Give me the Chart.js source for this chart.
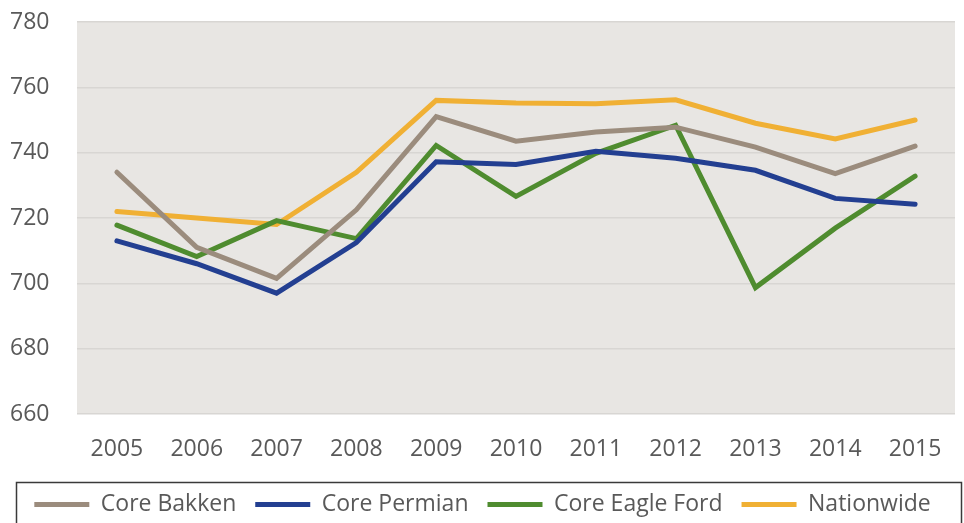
<!DOCTYPE html>
<html>
<head>
<meta charset="utf-8">
<script src="https://cdn.jsdelivr.net/npm/chart.js@4"></script>
<style>
  html, body { margin: 0; padding: 0; background: #fff; }
  .chart-box { position: relative; width: 964px; height: 523px; }
</style>
</head>
<body>
<div class="chart-box">
  <canvas id="score-chart"></canvas>
</div>
<script>
const years = ["2005", "2006", "2007", "2008", "2009", "2010", "2011", "2012", "2013", "2014", "2015"];
const coreBakken = [734, 711, 701.5, 722.5, 751, 743.5, 746.3, 747.8, 741.7, 733.6, 742];
const corePermian = [713, 706, 697, 712.5, 737.2, 736.4, 740.4, 738.3, 734.6, 726, 724.2];
const coreEagleFord = [717.8, 708.2, 719.2, 713.7, 742.2, 726.6, 739.8, 748.4, 698.7, 716.9, 732.8];
const nationwide = [722, 720, 718, 734, 756, 755.2, 755, 756.2, 749, 744.2, 750];
const yTicks = [660, 680, 700, 720, 740, 760, 780];

const fontFamily = "'Open Sans', sans-serif";

// Nen xam cho vung ve + khung legend
const plotBackground = {
  id: "plotBackground",
  beforeDraw: (chart) => {
    const { ctx, chartArea } = chart;
    ctx.save();
    ctx.fillStyle = "#e8e6e3";
    ctx.fillRect(chartArea.left, chartArea.top, chartArea.right - chartArea.left, chartArea.bottom - chartArea.top);
    ctx.restore();
  },
  afterDraw: (chart) => {
    const { ctx } = chart;
    ctx.save();
    ctx.strokeStyle = "#3a3a3a";
    ctx.lineWidth = 1.5;
    ctx.strokeRect(16.5, 482.5, 945, 60);
    ctx.restore();
  },
};

const makeLine = (label, data, color) => ({
  label: label,
  data: data,
  borderColor: color,
  backgroundColor: color,
  borderWidth: 5,
  borderCapStyle: "round",
  borderJoinStyle: "miter",
  pointRadius: 0,
  pointStyle: "line",
  tension: 0,
});

const chartElement = document.querySelector("#score-chart");
if (chartElement) {
  new Chart(chartElement, {
    type: "line",
    data: {
      labels: years,
      datasets: [
        makeLine("Core Bakken", coreBakken, "#9b8c7d"),
        makeLine("Core Permian", corePermian, "#233f91"),
        makeLine("Core Eagle Ford", coreEagleFord, "#4f8c2f"),
        makeLine("Nationwide", nationwide, "#f0b034"),
      ],
    },
    options: {
      responsive: true,
      maintainAspectRatio: false,
      animation: false,
      layout: {
        padding: { top: 22, right: 9, left: 10, bottom: -3 },
      },
      scales: {
        x: {
          offset: true,
          grid: { display: false },
          border: { display: false },
          ticks: {
            padding: 14,
            color: "#595959",
            font: { family: fontFamily, size: 23 },
            maxRotation: 0,
          },
          afterFit: (scale) => {
            scale.height = 60;
          },
        },
        y: {
          min: 660,
          max: 780,
          afterBuildTicks: (scale) => {
            scale.ticks = yTicks.map((v) => ({ value: v }));
          },
          grid: { color: "#d8d6d3", lineWidth: 1.5, drawTicks: false },
          border: { display: false },
          ticks: {
            padding: 0,
            crossAlign: "far",
            color: "#595959",
            font: { family: fontFamily, size: 23 },
          },
          afterFit: (scale) => {
            scale.width = 67;
          },
        },
      },
      plugins: {
        tooltip: { enabled: false },
        legend: {
          position: "bottom",
          labels: {
            usePointStyle: true,
            pointStyleWidth: 55,
            boxHeight: 5,
            padding: 19,
            color: "#595959",
            font: { family: fontFamily, size: 23 },
          },
        },
      },
    },
    plugins: [plotBackground],
  });
}
</script>
</body>
</html>
